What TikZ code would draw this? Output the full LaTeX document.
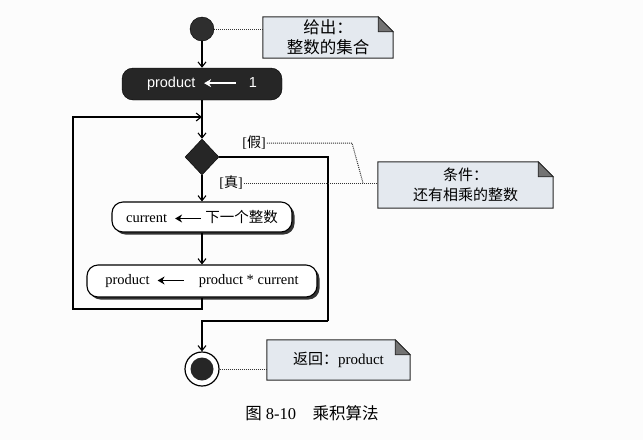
\documentclass[tikz,border=0pt]{standalone}
\usepackage{fontspec}
\setmainfont{Liberation Serif}
\newfontfamily\cjk{Noto Sans CJK SC}
\newfontfamily\sansf{Liberation Sans}
\usetikzlibrary{arrows.meta,shapes.geometric,shadows}
\pgfdeclarelayer{pagebg}
\pgfdeclarelayer{notebg}
\pgfsetlayers{pagebg,notebg,main}
\definecolor{notecol}{RGB}{228,233,239}
\definecolor{pagecol}{RGB}{252,252,252}
\newcommand\dognote[1]{%
  \begin{pgfonlayer}{notebg}
    \filldraw[noteedge] (#1.south west) -- (#1.north west) -- ([xshift=-15pt]#1.north east)
      -- ([yshift=-15pt]#1.north east) -- (#1.south east) -- cycle;
    \filldraw[foldedge] ([xshift=-15pt]#1.north east) -- ([xshift=-15pt,yshift=-15pt]#1.north east)
      -- ([yshift=-15pt]#1.north east) -- cycle;
  \end{pgfonlayer}}
\newcommand\larr[2]{\tikz[baseline=-0.6ex]\draw[line width=1.4pt,draw=#2,{Stealth[length=7pt,width=8pt]}-] (0pt,0pt) -- (#1,0pt);}
\begin{document}
\begin{tikzpicture}[x=1pt,y=-1pt,
  flow/.style={line width=1.1pt,-{Straight Barb[length=5pt,width=8pt]}},
  link/.style={line width=1.1pt},
  dots/.style={densely dotted,line width=1pt,black!80},
  act/.style={draw,line width=1.1pt,rounded corners=11pt,fill=white,inner sep=0pt,
    drop shadow={shadow xshift=2.5pt,shadow yshift=-2.5pt,fill=black!80,opacity=1},
    font=\fontsize{14.5}{17}\selectfont},
  blackbox/.style={draw=black,fill=black!85,rounded corners=11pt,text=white,inner sep=0pt,
    font=\sansf\fontsize{14.5}{17}\selectfont},
  lbl/.style={inner sep=1pt,font=\fontsize{14}{17}\selectfont},
  note/.style={inner sep=0pt,align=center,font=\cjk\fontsize{15}{20}\selectfont},
  noteedge/.style={fill=notecol,draw=black!85,line width=1pt},
  foldedge/.style={fill=black!55,draw=black!85,line width=0.8pt}]
\begin{pgfonlayer}{pagebg}
  \fill[pagecol] (0,0) rectangle (643,440);
\end{pgfonlayer}
\useasboundingbox (0,0) rectangle (643,440);

% nodes
\node[circle,fill=black!82,draw=black,minimum size=24pt,inner sep=0pt] (start) at (202,29) {};
\node[note,minimum width=130pt,minimum height=41pt,font=\cjk\fontsize{16.5}{20}\selectfont] (n1) at (328,37.5) {给出：\\整数的集合};
\node[blackbox,minimum width=160pt,minimum height=32pt] (init) at (202,84) {product\ \ \larr{32pt}{white}\ \ \ 1};
\coordinate (join) at (202,117);
\node[diamond,fill=black!85,draw=black,minimum width=34pt,minimum height=36pt,inner sep=0pt] (dec) at (202,157) {};
\node[lbl] (f) at (254,143) {[{\cjk 假}]};
\node[lbl] (t) at (231,183) {[{\cjk 真}]};
\node[act,minimum width=180pt,minimum height=30pt] (cur) at (202,217) {current\ \ \larr{26pt}{black}\ {\cjk 下一个整数}};
\node[act,minimum width=230pt,minimum height=32pt] (prod) at (202,281) {product\ \ \larr{26pt}{black}\quad product * current};
\node[circle,draw,line width=1.2pt,fill=white,minimum size=34pt,inner sep=0pt,
  path picture={\fill[black!85] (path picture bounding box.center) circle (11.5pt);}] (end) at (202,369) {};
\node[note,minimum width=143pt,minimum height=40pt] (n3) at (338.5,360) {返回：{\rmfamily product}};
\node[note,minimum width=175pt,minimum height=46pt] (n2) at (465.5,185) {条件：\\还有相乘的整数};
\node[font=\fontsize{16.5}{19}\selectfont] (cap) at (312,413) {{\cjk 图} 8-10\quad{\cjk 乘积算法}};

\dognote{n1}
\dognote{n2}
\dognote{n3}

% coordinates for bends
\coordinate (lx) at (73,309);
\coordinate (fr) at (328,321);
\coordinate (bend) at (352,143);
\coordinate (meet) at (363,183);

% connectors
\draw[flow] (start) -- (init);
\draw[flow] (init) -- (dec);
\draw[flow] (dec) -- (cur);
\draw[flow] (cur) -- (prod);
\draw[flow] (prod.south) |- (lx) |- (join);
\draw[link] (dec.east) -| (fr);
\draw[flow] (fr) -| (end.north);
\draw[dots] (start.east) -- (start.east -| n1.west);
\draw[dots] (f.east) -- (bend) -- (meet);
\draw[dots] (t.east) -- (t.east -| n2.west);
\draw[dots] (end.east) -- (end.east -| n3.west);
\end{tikzpicture}
\end{document}
